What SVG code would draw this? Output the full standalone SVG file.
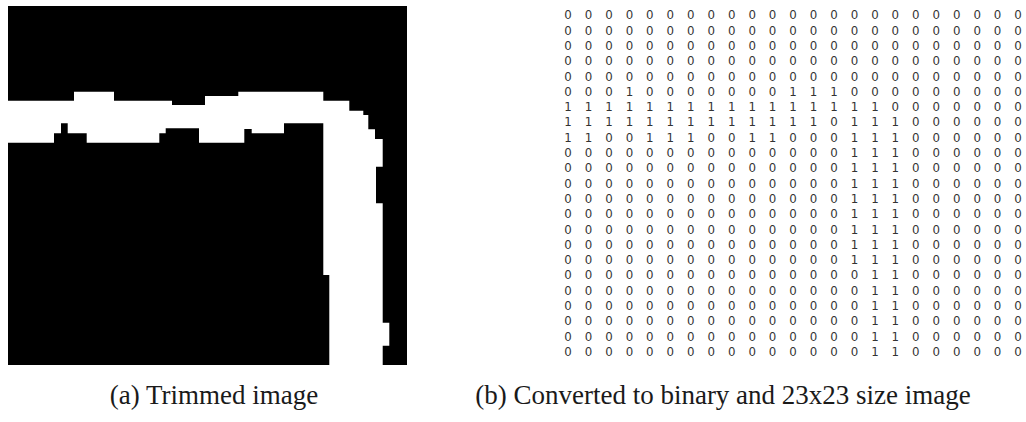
<svg xmlns="http://www.w3.org/2000/svg" width="1026" height="422" viewBox="0 0 1026 422">
<style>
.cap{font-family:"Liberation Serif","Times New Roman",serif;font-size:27px;fill:#1a1a1a}
.row{font-family:"DejaVu Sans",sans-serif;font-size:11.8px;fill:#333333;letter-spacing:4.6px}
</style>
<rect x="0" y="0" width="1026" height="422" fill="#ffffff"/>
<g id="trimmed-image">
<rect x="8" y="6" width="399" height="359" fill="#000000"/>
<path fill="#ffffff" d="M8,100.7 H74 V91.7 H114 V100.7 H172 V105 H205 V96 H238.3 V91.7 H323.3 V100.7 H349.3 V110.7 H363.3 V115 H368.3 V129.3 H375 V139 H382.7 V166.7 H376 V203.3 H382.7 V322.7 H389.3 V345.7 H382.7 V365 H329.3 V275 H323.3 V123.3 H284 V133.3 H251.7 V129 H244.3 V142.7 H199 V128.3 H165.7 V133.3 H159.3 V142.7 H86.7 V133.3 H67.7 V123.3 H61 V133.3 H54 V142.7 H8 Z"/>
</g>
<g id="binary-matrix">
<text class="row" x="564.3" y="19.3">0 0 0 0 0 0 0 0 0 0 0 0 0 0 0 0 0 0 0 0 0 0 0</text>
<text class="row" x="564.3" y="34.6">0 0 0 0 0 0 0 0 0 0 0 0 0 0 0 0 0 0 0 0 0 0 0</text>
<text class="row" x="564.3" y="49.9">0 0 0 0 0 0 0 0 0 0 0 0 0 0 0 0 0 0 0 0 0 0 0</text>
<text class="row" x="564.3" y="65.2">0 0 0 0 0 0 0 0 0 0 0 0 0 0 0 0 0 0 0 0 0 0 0</text>
<text class="row" x="564.3" y="80.5">0 0 0 0 0 0 0 0 0 0 0 0 0 0 0 0 0 0 0 0 0 0 0</text>
<text class="row" x="564.3" y="95.8">0 0 0 1 0 0 0 0 0 0 0 1 1 1 0 0 0 0 0 0 0 0 0</text>
<text class="row" x="564.3" y="111.1">1 1 1 1 1 1 1 1 1 1 1 1 1 1 1 1 0 0 0 0 0 0 0</text>
<text class="row" x="564.3" y="126.4">1 1 1 1 1 1 1 1 1 1 1 1 1 0 1 1 1 0 0 0 0 0 0</text>
<text class="row" x="564.3" y="141.7">1 1 0 0 1 1 1 0 0 1 1 0 0 0 1 1 1 0 0 0 0 0 0</text>
<text class="row" x="564.3" y="157">0 0 0 0 0 0 0 0 0 0 0 0 0 0 1 1 1 0 0 0 0 0 0</text>
<text class="row" x="564.3" y="172.3">0 0 0 0 0 0 0 0 0 0 0 0 0 0 1 1 1 0 0 0 0 0 0</text>
<text class="row" x="564.3" y="187.6">0 0 0 0 0 0 0 0 0 0 0 0 0 0 1 1 1 0 0 0 0 0 0</text>
<text class="row" x="564.3" y="202.9">0 0 0 0 0 0 0 0 0 0 0 0 0 0 1 1 1 0 0 0 0 0 0</text>
<text class="row" x="564.3" y="218.2">0 0 0 0 0 0 0 0 0 0 0 0 0 0 1 1 1 0 0 0 0 0 0</text>
<text class="row" x="564.3" y="233.5">0 0 0 0 0 0 0 0 0 0 0 0 0 0 1 1 1 0 0 0 0 0 0</text>
<text class="row" x="564.3" y="248.8">0 0 0 0 0 0 0 0 0 0 0 0 0 0 1 1 1 0 0 0 0 0 0</text>
<text class="row" x="564.3" y="264.1">0 0 0 0 0 0 0 0 0 0 0 0 0 0 1 1 1 0 0 0 0 0 0</text>
<text class="row" x="564.3" y="279.4">0 0 0 0 0 0 0 0 0 0 0 0 0 0 0 1 1 0 0 0 0 0 0</text>
<text class="row" x="564.3" y="294.7">0 0 0 0 0 0 0 0 0 0 0 0 0 0 0 1 1 0 0 0 0 0 0</text>
<text class="row" x="564.3" y="310">0 0 0 0 0 0 0 0 0 0 0 0 0 0 0 1 1 0 0 0 0 0 0</text>
<text class="row" x="564.3" y="325.3">0 0 0 0 0 0 0 0 0 0 0 0 0 0 0 1 1 0 0 0 0 0 0</text>
<text class="row" x="564.3" y="340.6">0 0 0 0 0 0 0 0 0 0 0 0 0 0 0 1 1 0 0 0 0 0 0</text>
<text class="row" x="564.3" y="355.9">0 0 0 0 0 0 0 0 0 0 0 0 0 0 0 1 1 0 0 0 0 0 0</text>
</g>
<g id="captions">
<text class="cap" x="214" y="404" text-anchor="middle">(a) Trimmed image</text>
<text class="cap" x="723" y="404" text-anchor="middle">(b) Converted to binary and 23x23 size image</text>
</g>
</svg>
